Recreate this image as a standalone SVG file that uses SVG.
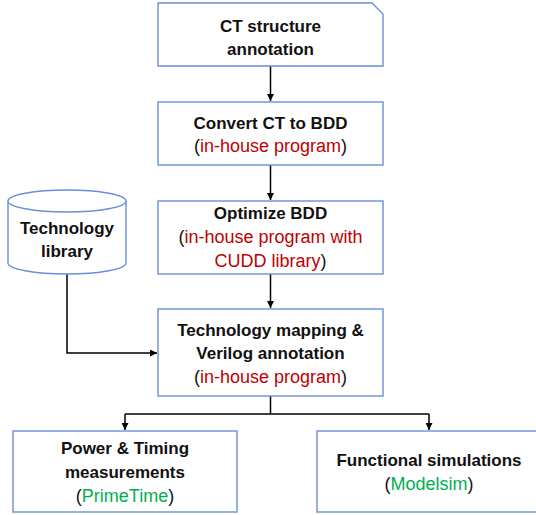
<svg xmlns="http://www.w3.org/2000/svg" width="536" height="515" viewBox="0 0 536 515">
<defs>
<marker id="arr" viewBox="0 0 10 10" refX="10" refY="5" markerWidth="7" markerHeight="7" markerUnits="userSpaceOnUse" orient="auto">
<path d="M0,0 L10,5 L0,10 z" fill="#000"/>
</marker>
<style>
.box{fill:#fff;stroke:#6A8FD6;stroke-width:1.4}
.b{font-family:"Liberation Sans",Arial,sans-serif;font-weight:bold;font-size:17px;fill:#111;text-anchor:middle}
.r{font-family:"Liberation Sans",Arial,sans-serif;font-size:18px;fill:#111;text-anchor:middle}
.red{fill:#C00000}
.grn{fill:#00B050}
.c{fill:none;stroke:#000;stroke-width:1.5}
</style>
</defs>
<rect width="536" height="515" fill="#fff"/>
<g id="connectors">
<path class="c" d="M270.5,66 V101" marker-end="url(#arr)"/>
<path class="c" d="M270.5,165 V200" marker-end="url(#arr)"/>
<path class="c" d="M270.5,274 V308" marker-end="url(#arr)"/>
<path class="c" d="M67,274 V353 H157" marker-end="url(#arr)"/>
<path class="c" d="M270.5,396 V414"/>
<path class="c" d="M125,414 H429"/>
<path class="c" d="M125,414 V430" marker-end="url(#arr)"/>
<path class="c" d="M429,414 V430" marker-end="url(#arr)"/>
</g>
<g id="ct-annotation">
<path class="box" d="M158,3 H372 L383,14 V66 H158 Z"/>
<text class="b" x="270.5" y="32">CT structure</text>
<text class="b" x="270.5" y="55">annotation</text>
</g>
<g id="convert">
<rect class="box" x="158" y="102" width="225" height="63"/>
<text class="b" x="270.5" y="129">Convert CT to BDD</text>
<text class="r" x="270.5" y="152">(<tspan class="red">in-house program</tspan>)</text>
</g>
<g id="optimize">
<rect class="box" x="158" y="201" width="225" height="73"/>
<text class="b" x="270.5" y="219">Optimize BDD</text>
<text class="r" x="270.5" y="243">(<tspan class="red">in-house program with</tspan></text>
<text class="r" x="270.5" y="267"><tspan class="red">CUDD library</tspan>)</text>
</g>
<g id="techlib">
<path class="box" d="M8,201 A59,11 0 0 1 126,201 V263 A59,11 0 0 1 8,263 Z"/>
<path class="box" d="M8,201 A59,11 0 0 0 126,201" fill="none"/>
<text class="b" x="67" y="234">Technology</text>
<text class="b" x="67" y="257">library</text>
</g>
<g id="mapping">
<rect class="box" x="158" y="309" width="225" height="87"/>
<text class="b" x="270.5" y="336">Technology mapping &amp;</text>
<text class="b" x="270.5" y="359">Verilog annotation</text>
<text class="r" x="270.5" y="383">(<tspan class="red">in-house program</tspan>)</text>
</g>
<g id="power">
<rect class="box" x="13" y="431" width="224" height="81"/>
<text class="b" x="125" y="454">Power &amp; Timing</text>
<text class="b" x="125" y="478">measurements</text>
<text class="r" x="125" y="502">(<tspan class="grn">PrimeTime</tspan>)</text>
</g>
<g id="functional">
<rect class="box" x="317" y="431" width="224" height="81"/>
<text class="b" x="429" y="466">Functional simulations</text>
<text class="r" x="429" y="490">(<tspan class="grn">Modelsim</tspan>)</text>
</g>
</svg>
